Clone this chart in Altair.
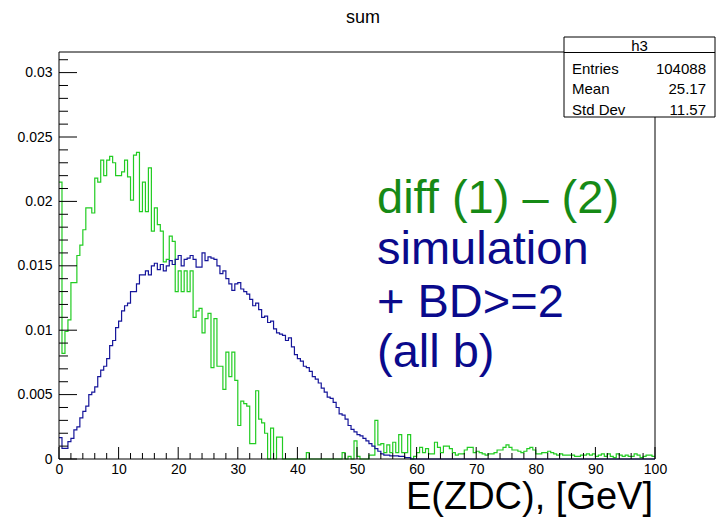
import altair as alt
import pandas as pd

# ---- data (bin width 0.5 GeV, 0..100 GeV) ----
bin_width = 0.5

green_vals = [
    # 0 - 9.5
    0.0215, 0.0082, 0.0099, 0.0108, 0.0137, 0.0137, 0.0158, 0.0166, 0.0178, 0.0195,
    0.0195, 0.0191, 0.0218, 0.0215, 0.0232, 0.0220, 0.0232, 0.0235, 0.0230, 0.0220,
    # 10 - 19.5
    0.0220, 0.0223, 0.0232, 0.0219, 0.0201, 0.0236, 0.0238, 0.0192, 0.0215, 0.0192,
    0.0226, 0.0177, 0.0195, 0.0182, 0.0177, 0.0153, 0.0155, 0.0173, 0.0169, 0.0130,
    # 20 - 29.5
    0.0146, 0.0130, 0.0146, 0.0130, 0.0146, 0.0110, 0.0115, 0.0117, 0.0098, 0.0109,
    0.0113, 0.0071, 0.0109, 0.0072, 0.0072, 0.0054, 0.0083, 0.0064, 0.0083, 0.0061,
    # 30 - 39.5
    0.0026, 0.0045, 0.0043, 0.0041, 0.0012, 0.0012, 0.0053, 0.0031, 0.0028, 0.0020,
    0.0, 0.0024, 0.0, 0.0017, 0.0017, 0.0, 0.0, 0.0, 0.0, 0.0,
    # 40 - 49.5
    0.0, 0.0, 0.0, 0.0005, 0.0, 0.0, 0.0, 0.0, 0.0, 0.0,
    0.0, 0.0, 0.0, 0.0, 0.0, 0.0005, 0.0, 0.0002, 0.0, 0.0014,
    # 50 - 59.5
    0.0002, 0.0, 0.0, 0.0, 0.0003, 0.0003, 0.0030, 0.0011, 0.0012, 0.0005,
    0.0011, 0.0005, 0.0013, 0.0005, 0.0019, 0.0005, 0.0005, 0.0019, 0.0, 0.0002,
    # 60 - 69.5
    0.0005, 0.0009, 0.0005, 0.0008, 0.0004, 0.0004, 0.0013, 0.0009, 0.0005, 0.0010,
    0.0010, 0.0008, 0.0005, 0.0003, 0.0004, 0.0004, 0.0007, 0.0009, 0.0009, 0.0005,
    # 70 - 79.5
    0.0006, 0.0005, 0.0004, 0.0003, 0.0004, 0.0004, 0.0005, 0.0007, 0.0007, 0.0009,
    0.0011, 0.0009, 0.0007, 0.0007, 0.0006, 0.0005, 0.0006, 0.0008, 0.0009, 0.0007,
    # 80 - 89.5
    0.0004, 0.0004, 0.0005, 0.0005, 0.0006, 0.0005, 0.0004, 0.0003, 0.0004, 0.0003,
    0.0003, 0.0003, 0.0003, 0.0002, 0.0002, 0.0003, 0.0003, 0.0004, 0.0003, 0.0004,
    # 90 - 99.5
    0.0002, 0.0003, 0.0004, 0.0002, 0.0004, 0.0002, 0.0001, 0.0004, 0.0003, 0.0002,
    0.0003, 0.0002, 0.0002, 0.0004, 0.0003, 0.0001, 0.0002, 0.0003, 0.0003, 0.0002,
]

blue_vals = [
    # 0 - 9.5
    0.00166, 0.00083, 0.00083, 0.00135, 0.0016, 0.00226, 0.0025, 0.0032, 0.0037, 0.0041,
    0.0050, 0.0052, 0.0056, 0.0064, 0.0069, 0.0072, 0.0078, 0.0088, 0.0092, 0.0102,
    # 10 - 19.5
    0.0107, 0.0115, 0.0119, 0.0121, 0.0130, 0.0130, 0.0136, 0.0143, 0.0143, 0.0146,
    0.0143, 0.0150, 0.0152, 0.0147, 0.0151, 0.0146, 0.0150, 0.0154, 0.0151, 0.0155,
    # 20 - 29.5
    0.0158, 0.0150, 0.0155, 0.0156, 0.0158, 0.0155, 0.0149, 0.0149, 0.0160, 0.0154,
    0.0157, 0.0156, 0.0155, 0.0150, 0.0144, 0.0146, 0.0140, 0.0136, 0.0131, 0.0136,
    # 30 - 39.5
    0.0137, 0.0132, 0.0130, 0.0128, 0.0124, 0.0119, 0.0121, 0.0116, 0.0110, 0.0111,
    0.0106, 0.0107, 0.0101, 0.0098, 0.0097, 0.0096, 0.0092, 0.0094, 0.0087, 0.0081,
    # 40 - 49.5
    0.0078, 0.0076, 0.0072, 0.0071, 0.0068, 0.0064, 0.0062, 0.0059, 0.0055, 0.0052,
    0.0048, 0.0047, 0.0044, 0.0040, 0.0035, 0.0034, 0.0031, 0.0026, 0.0023, 0.0021,
    # 50 - 59.5
    0.0019, 0.0018, 0.0016, 0.0014, 0.0012, 0.0010, 0.0008, 0.0006, 0.0004, 0.0003,
    0.0003, 0.00025, 0.00025, 0.00025, 0.0002, 0.0002, 0.0001, 0.0001, 0.0, 0.0,
    # 60 - 99.5
] + [0.0] * 80

x_major = [0, 10, 20, 30, 40, 50, 60, 70, 80, 90, 100]
x_minor = [v for v in range(0, 101, 2) if v % 10 != 0]
y_major = [0, 0.005, 0.01, 0.015, 0.02, 0.025, 0.03]
y_minor = [i / 1000 for i in range(0, 32) if i % 5 != 0]

stats_labels = ["Entries", "Mean", "Std Dev"]
stats_values = ["104088", "25.17", "11.57"]
stats_name = "h3"
title_text = "sum"
x_title = "E(ZDC), [GeV]"
note_lines = ["diff (1) \u2013 (2)", "simulation", "+ BD>=2", "(all b)"]
note_colors = ["#168a16", "#0a0a8c", "#0a0a8c", "#0a0a8c"]

FONT = "Liberation Sans"
W, H = 596, 407
XMAX, YMAX = 100, 0.0316


def step_frame(vals, name):
    xs = [i * bin_width for i in range(len(vals) + 1)]
    ys = list(vals) + [vals[-1]]
    return pd.DataFrame({"E": xs, "v": ys, "s": name})


green_df = step_frame(green_vals, "diff")
blue_df = step_frame(blue_vals, "sim")

xscale = alt.Scale(domain=[0, XMAX], nice=False, zero=False)
yscale = alt.Scale(domain=[0, YMAX], nice=False, zero=False)

xaxis = alt.Axis(values=x_major, ticks=False, domain=False, grid=False, title=None,
                 labelFont=FONT, labelFontSize=14, labelColor="black",
                 labelPadding=3, labelFlush=False)
yaxis = alt.Axis(values=y_major, ticks=False, domain=False, grid=False, title=None,
                 labelFont=FONT, labelFontSize=14, labelColor="black",
                 labelPadding=7, labelExpr="format(datum.value, '~g')")

green_line = alt.Chart(green_df).mark_line(
    interpolate="step-after", color="#22cc22", strokeWidth=1.2
).encode(
    x=alt.X("E:Q", scale=xscale, axis=xaxis),
    y=alt.Y("v:Q", scale=yscale, axis=yaxis),
)

blue_line = alt.Chart(blue_df).mark_line(
    interpolate="step-after", color="#15159a", strokeWidth=1.2
).encode(
    x=alt.X("E:Q", scale=xscale),
    y=alt.Y("v:Q", scale=yscale),
)

# ---- frame ----
frame_df = pd.DataFrame({"k": [0]})
frame = alt.Chart(frame_df).mark_rule(color="black", strokeWidth=1)
frame_left = frame.encode(x=alt.value(0), y=alt.value(0), y2=alt.value(H))
frame_right = frame.encode(x=alt.value(W), y=alt.value(0), y2=alt.value(H))
frame_top = frame.encode(x=alt.value(0), x2=alt.value(W), y=alt.value(0))
frame_bottom = frame.encode(x=alt.value(0), x2=alt.value(W), y=alt.value(H))

# ---- ticks (inside the frame) ----
xmaj = alt.Chart(pd.DataFrame({"t": x_major})).mark_rule(color="black").encode(
    x=alt.X("t:Q", scale=xscale), y=alt.value(H), y2=alt.value(H - 12))
xmin = alt.Chart(pd.DataFrame({"t": x_minor})).mark_rule(color="black").encode(
    x=alt.X("t:Q", scale=xscale), y=alt.value(H), y2=alt.value(H - 6))
ymaj = alt.Chart(pd.DataFrame({"t": y_major})).mark_rule(color="black").encode(
    y=alt.Y("t:Q", scale=yscale), x=alt.value(0), x2=alt.value(18))
ymin = alt.Chart(pd.DataFrame({"t": y_minor})).mark_rule(color="black").encode(
    y=alt.Y("t:Q", scale=yscale), x=alt.value(0), x2=alt.value(9))

# ---- title and axis title ----
title_mark = alt.Chart(frame_df).mark_text(
    font=FONT, fontSize=18, color="black", align="center", baseline="middle"
).encode(x=alt.value(304), y=alt.value(-34), text=alt.value(title_text))

xtitle_mark = alt.Chart(frame_df).mark_text(
    font=FONT, fontSize=38, color="black", align="right", baseline="alphabetic"
).encode(x=alt.value(594), y=alt.value(457), text=alt.value(x_title))

# ---- annotation ----
note_df = pd.DataFrame({"t": note_lines, "c": note_colors,
                        "yy": [161, 212, 265, 315]})
notes = alt.Chart(note_df).mark_text(
    font=FONT, fontSize=47, align="left", baseline="alphabetic"
).encode(
    x=alt.value(318),
    y=alt.Y("yy:Q", scale=None),
    text="t:N",
    color=alt.Color("c:N", scale=None),
)

# ---- stats box ----
BX0, BX1, BY0, BY1 = 505, 656, -15, 65
box = alt.Chart(frame_df).mark_rect(fill="white", stroke="black", strokeWidth=1).encode(
    x=alt.value(BX0), x2=alt.value(BX1), y=alt.value(BY0), y2=alt.value(BY1))
box_sep = alt.Chart(frame_df).mark_rule(color="black", strokeWidth=1).encode(
    x=alt.value(BX0), x2=alt.value(BX1), y=alt.value(0.5))
box_name = alt.Chart(frame_df).mark_text(
    font=FONT, fontSize=15, color="black", align="center", baseline="middle"
).encode(x=alt.value((BX0 + BX1) / 2), y=alt.value(-6.5), text=alt.value(stats_name))

stats_df = pd.DataFrame({"lab": stats_labels, "val": stats_values, "yy": [16.5, 37, 57.5]})
stats_lab = alt.Chart(stats_df).mark_text(
    font=FONT, fontSize=15, color="black", align="left", baseline="middle"
).encode(x=alt.value(513), y=alt.Y("yy:Q", scale=None), text="lab:N")
stats_val = alt.Chart(stats_df).mark_text(
    font=FONT, fontSize=15, color="black", align="right", baseline="middle"
).encode(x=alt.value(647), y=alt.Y("yy:Q", scale=None), text="val:N")

chart = alt.layer(
    green_line, blue_line,
    xmin, xmaj, ymin, ymaj,
    frame_left, frame_right, frame_top, frame_bottom,
    box, box_sep, box_name, stats_lab, stats_val,
    title_mark, xtitle_mark, notes,
).properties(
    width=W, height=H,
    padding={"left": 59, "top": 52, "right": 66, "bottom": 67},
    autosize=alt.AutoSizeParams(type="none"),
    background="white",
).configure_view(strokeWidth=0)

chart.save("out.html", embed_options={"renderer": "svg", "actions": False})
